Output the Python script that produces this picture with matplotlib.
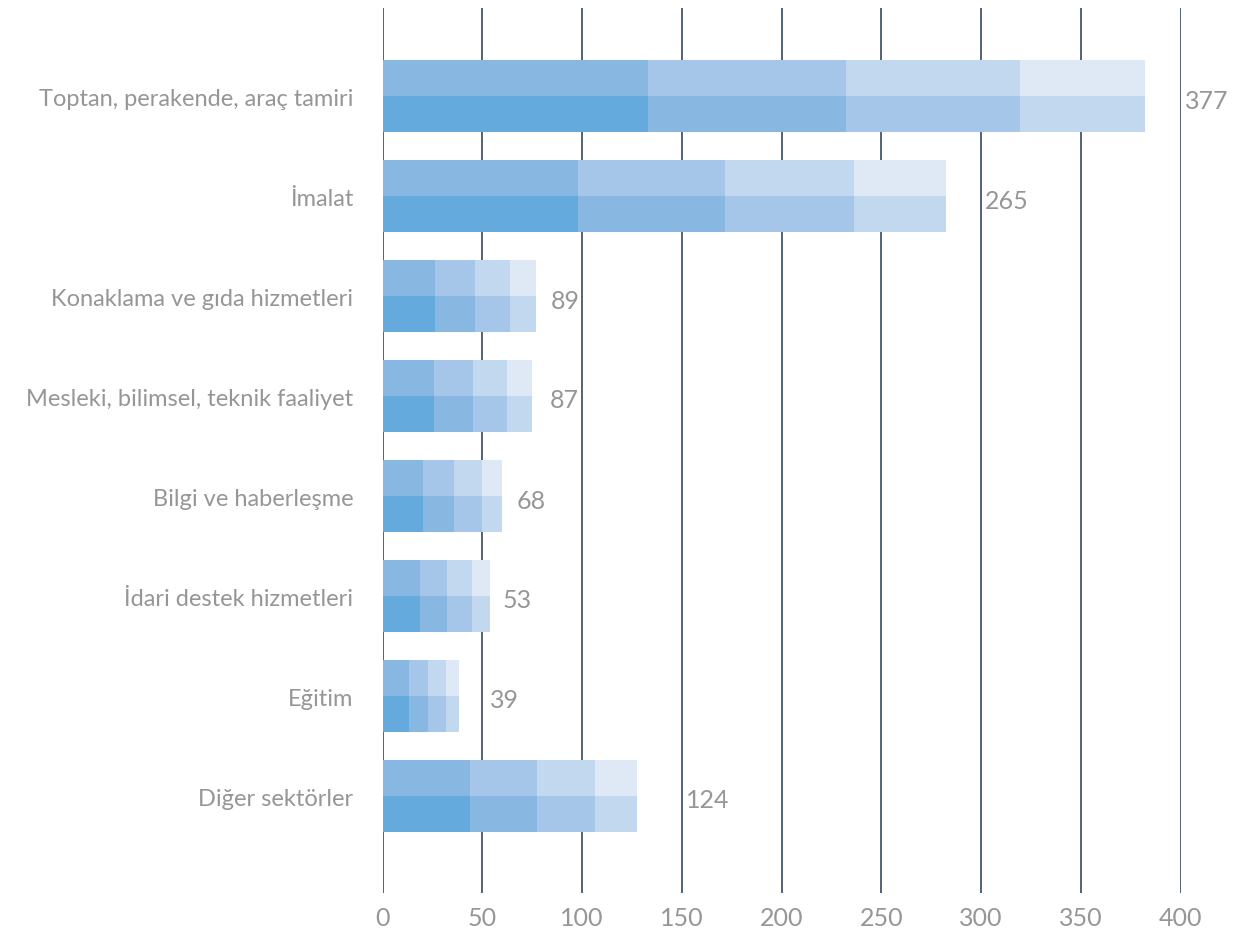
import matplotlib
matplotlib.use("Agg")
import matplotlib.pyplot as plt
import numpy as np

plt.rcParams['font.family'] = ['Lato', 'DejaVu Sans']

# sectors, top to bottom
sectors = ["Toptan, perakende, araç tamiri", "İmalat", "Konaklama ve gıda hizmetleri",
           "Mesleki, bilimsel, teknik faaliyet", "Bilgi ve haberleşme",
           "İdari destek hizmetleri", "Eğitim", "Diğer sektörler"]

# four stacked parts per sector
part1 = [133.0, 98.0, 26.3, 25.8, 20.3, 18.8, 13.3, 43.9]
part2 = [99.3, 73.7, 20.1, 19.6, 15.5, 13.5, 9.5, 33.5]
part3 = [87.2, 64.6, 17.5, 17.0, 14.1, 12.6, 9.0, 29.1]
part4 = [62.5, 46.2, 13.0, 12.6, 10.0, 9.0, 6.5, 21.1]

totals = [377, 265, 89, 87, 68, 53, 39, 124]
label_x = [402, 302, 84.5, 84, 67.4, 60, 54, 152]

xticks = [0, 50, 100, 150, 200, 250, 300, 350, 400]

# upper half is one shade lighter than the lower half
upper_colors = ["#88b7e1", "#a5c6e8", "#c2d8ef", "#dfe9f5"]
lower_colors = ["#64aadd", "#88b7e1", "#a5c6e8", "#c2d8ef"]

fig = plt.figure(figsize=(12.52, 9.33), dpi=100)
ax = fig.add_axes([382.5 / 1252, 40 / 933, 798 / 1252, 885 / 933])

y = np.arange(len(sectors))
parts = [part1, part2, part3, part4]
h = 0.36
left = np.zeros(len(sectors))
for k, p in enumerate(parts):
    p = np.asarray(p)
    ax.barh(y - h / 2 - 0.01, p, height=h, left=left, color=upper_colors[k], linewidth=0, zorder=3)
    ax.barh(y + h / 2 - 0.01, p, height=h, left=left, color=lower_colors[k], linewidth=0, zorder=3)
    left = left + p

for xi, t, yi in zip(label_x, totals, y):
    ax.text(xi, yi + 0.04, str(t), ha="left", va="center", fontsize=18,
            color="#969696", clip_on=False)

ax.set_xlim(0, 400)
ax.set_ylim(7.96, -0.89)
ax.set_xticks(xticks)
ax.set_xticklabels([str(v) for v in xticks], fontsize=18)
ax.set_yticks(y)
ax.set_yticklabels(sectors, fontsize=17)
ax.tick_params(axis="both", length=0, labelcolor="#969696")
ax.tick_params(axis="y", pad=21)
ax.tick_params(axis="x", pad=10)
ax.xaxis.grid(True, color="#34495e", linewidth=1.2, zorder=1)
ax.set_axisbelow(True)
for s in ax.spines.values():
    s.set_visible(False)

fig.savefig("out.png", dpi=100)
